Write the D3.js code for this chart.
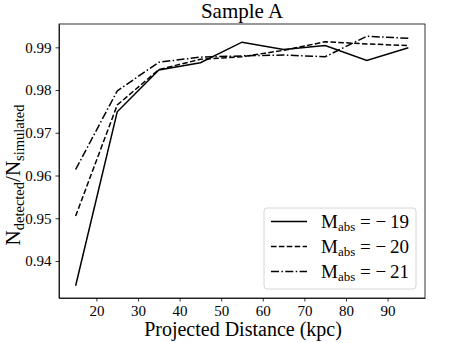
<!doctype html>
<html>
<head>
<style>
    body { margin: 0; background: #fff; }
    text { font-family: "Liberation Serif", "DejaVu Serif", serif; fill: #000; }
    .axis path, .axis line { stroke: #000; stroke-width: 0.8; }
    .axis text { font-size: 15px; font-family: "Liberation Serif", serif; }
    .line { fill: none; stroke: #000; stroke-width: 1.5; }
</style>
<script src="https://d3js.org/d3.v7.min.js"></script>
</head>
<body>
<svg width="457" height="343"></svg>
<script>
    // data
    var distances = [15, 25, 35, 45, 55, 65, 75, 85, 95];
    var m19 = [0.9342, 0.9749, 0.9847, 0.9864, 0.9912, 0.9895, 0.9904, 0.9869, 0.9899];
    var m20 = [0.9505, 0.9765, 0.9848, 0.9872, 0.9878, 0.9893, 0.9913, 0.9908, 0.9904];
    var m21 = [0.9614, 0.9798, 0.9865, 0.9877, 0.9880, 0.9882, 0.9878, 0.9926, 0.9921];
    var seriesNames = ["\u2212\u200919", "\u2212\u200920", "\u2212\u200921"];
    var xTicks = [20, 30, 40, 50, 60, 70, 80, 90];
    var yTicks = [0.94, 0.95, 0.96, 0.97, 0.98, 0.99];

    var svg = d3.select("svg");
    var pLeft = 59, pTop = 24, pRight = 425, pBottom = 298;

    var x = d3.scaleLinear().domain([11, 99]).range([pLeft, pRight]);
    var y = d3.scaleLinear().domain([0.93133, 0.99546]).range([pBottom, pTop]);

    svg.append("g").attr("class", "axis")
        .attr("transform", "translate(0," + pBottom + ")")
        .call(d3.axisBottom(x).tickValues(xTicks).tickSize(3.5).tickSizeOuter(0).tickPadding(4));
    svg.append("g").attr("class", "axis")
        .attr("transform", "translate(" + pLeft + ",0)")
        .call(d3.axisLeft(y).tickValues(yTicks).tickFormat(d3.format(".2f")).tickSize(3.5).tickSizeOuter(0).tickPadding(4));

    // frame
    svg.append("rect")
        .attr("x", pLeft).attr("y", pTop)
        .attr("width", pRight - pLeft).attr("height", pBottom - pTop)
        .attr("fill", "none").attr("stroke", "#000").attr("stroke-width", 0.8);

    var dashes = [null, "5.5,2.4", "8,2.4,1.5,2.4"];
    var all = [m19, m20, m21];
    var line = d3.line()
        .x(function(d, i) { return x(distances[i]); })
        .y(function(d) { return y(d); });

    all.forEach(function(s, k) {
        svg.append("path")
            .datum(s)
            .attr("class", "line")
            .attr("stroke-dasharray", dashes[k])
            .attr("d", line);
    });

    // title and labels
    svg.append("text")
        .attr("x", (pLeft + pRight) / 2).attr("y", 18)
        .attr("text-anchor", "middle")
        .attr("font-size", "21px")
        .text("Sample A");

    svg.append("text")
        .attr("x", (pLeft + pRight) / 2 + 1).attr("y", 336)
        .attr("text-anchor", "middle")
        .attr("font-size", "20px")
        .text("Projected Distance (kpc)");

    var yl = svg.append("text")
        .attr("transform", "translate(20,175) rotate(-90)")
        .attr("text-anchor", "middle")
        .attr("font-size", "21px");
    yl.append("tspan").text("N");
    yl.append("tspan").attr("font-size", "14.5px").attr("dy", 4).text("detected");
    yl.append("tspan").attr("dy", -4).text("/N");
    yl.append("tspan").attr("font-size", "14.5px").attr("dy", 4).text("simulated");

    // legend
    var lg = svg.append("g");
    lg.append("rect")
        .attr("x", 264).attr("y", 208)
        .attr("width", 152).attr("height", 81)
        .attr("rx", 3)
        .attr("fill", "#fff").attr("stroke", "#ccc").attr("stroke-width", 0.8);

    seriesNames.forEach(function(name, k) {
        var yy = 221.5 + k * 25;
        lg.append("line")
            .attr("x1", 271).attr("x2", 307)
            .attr("y1", yy).attr("y2", yy)
            .attr("stroke", "#000").attr("stroke-width", 1.5)
            .attr("stroke-dasharray", dashes[k]);
        var t = lg.append("text")
            .attr("x", 321).attr("y", yy + 6)
            .attr("font-size", "19px");
        t.append("tspan").text("M");
        t.append("tspan").attr("font-size", "13px").attr("dy", 3).text("abs");
        t.append("tspan").attr("dy", -3).text(" = " + name);
    });
</script>
</body>
</html>
